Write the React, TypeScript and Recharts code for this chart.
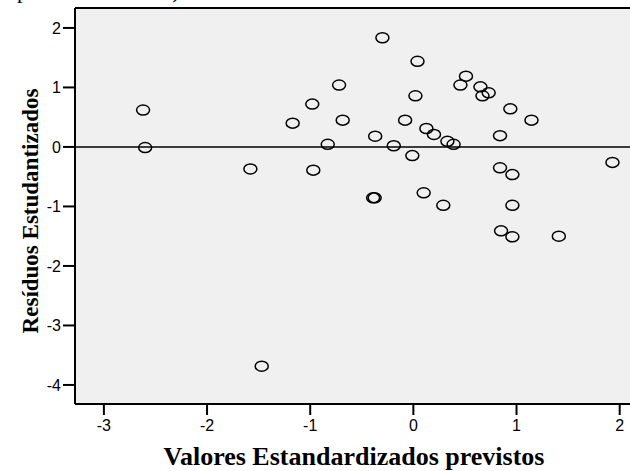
import React from "react";
import {
  ScatterChart,
  Scatter,
  XAxis,
  YAxis,
  CartesianGrid,
  ReferenceLine,
} from "recharts";

// standardized predicted values (x) and studentized residuals (y)
const predicted = [
  -2.62, -2.6, -1.58, -1.17, -0.98, -0.97, -0.72, -0.685, -0.83, -0.3,
  0.04, 0.02, -0.08, -0.37, -0.19, -0.01, 0.126, 0.2, 0.33, 0.39,
  0.51, 0.456, 0.65, 0.73, 0.67, 0.94, 1.145, 0.84, 0.84, 0.96,
  1.93, -0.39, -0.375, 0.1, 0.29, 0.96, 0.85, 0.96, 1.41, -1.47,
];
const residuals = [
  0.62, -0.01, -0.37, 0.4, 0.72, -0.39, 1.04, 0.45, 0.045, 1.835,
  1.44, 0.86, 0.45, 0.18, 0.02, -0.145, 0.31, 0.21, 0.095, 0.045,
  1.19, 1.04, 1.01, 0.91, 0.86, 0.64, 0.45, 0.19, -0.35, -0.465,
  -0.26, -0.855, -0.855, -0.77, -0.98, -0.98, -1.41, -1.51, -1.5, -3.685,
];
const xTicks = [-3, -2, -1, 0, 1, 2];
const yTicks = [-4, -3, -2, -1, 0, 1, 2];

const X_DOMAIN: [number, number] = [-3.28, 2.1];
const Y_DOMAIN: [number, number] = [-4.32, 2.335];

const points = predicted.map((x, i) => ({ x, y: residuals[i] }));

const tickStyle = {
  fontSize: 16,
  fill: "#000",
  fontFamily: "'Liberation Sans', Arial, sans-serif",
};

const titleFont = "'Liberation Serif', 'Times New Roman', serif";

function Ring(props: any) {
  const { cx, cy } = props;
  if (cx == null || cy == null) return null;
  return (
    <ellipse
      cx={cx}
      cy={cy}
      rx={6.5}
      ry={5}
      fill="none"
      stroke="#000"
      strokeWidth={1.5}
    />
  );
}

export default function App() {
  return (
    <div style={{ position: "absolute", left: 0, top: 0, width: 630, height: 471, background: "#fff", overflow: "hidden" }}>
      <ScatterChart
        width={630}
        height={471}
        margin={{ top: 8, right: 0, bottom: 0, left: 0 }}
      >
        <CartesianGrid horizontal={false} vertical={false} fill="#f0f0f0" />
        <XAxis
          type="number"
          dataKey="x"
          domain={X_DOMAIN}
          ticks={xTicks}
          allowDataOverflow
          height={67}
          tickSize={11}
          tickMargin={5}
          axisLine={{ stroke: "#000", strokeWidth: 2 }}
          tickLine={{ stroke: "#000", strokeWidth: 2 }}
          tick={tickStyle}
          label={{
            content: () => (
              <text
                x={354}
                y={465}
                textAnchor="middle"
                fontFamily={titleFont}
                fontWeight="bold"
                fontSize={26}
                fill="#000"
              >
                Valores Estandardizados previstos
              </text>
            ),
          }}
        />
        <YAxis
          type="number"
          dataKey="y"
          domain={Y_DOMAIN}
          ticks={yTicks}
          allowDataOverflow
          width={75}
          tickSize={12}
          tickMargin={2}
          axisLine={{ stroke: "#000", strokeWidth: 2 }}
          tickLine={{ stroke: "#000", strokeWidth: 2 }}
          tick={tickStyle}
          label={{
            content: () => (
              <text
                x={0}
                y={0}
                transform="translate(38 211) rotate(-90)"
                textAnchor="middle"
                fontFamily={titleFont}
                fontWeight="bold"
                fontSize={23}
                fill="#000"
              >
                Resíduos Estudantizados
              </text>
            ),
          }}
        />
        <ReferenceLine y={Y_DOMAIN[1]} stroke="#000" strokeWidth={2} />
        <ReferenceLine y={0} stroke="#000" strokeWidth={1.5} />
        <Scatter data={points} shape={Ring} isAnimationActive={false} />
      </ScatterChart>
      <div
        style={{
          position: "absolute",
          left: 17,
          top: -19,
          fontFamily: titleFont,
          fontSize: 22,
          lineHeight: "20px",
          color: "#000",
          whiteSpace: "nowrap",
        }}
      >
        por Crédito Rural)
      </div>
    </div>
  );
}
